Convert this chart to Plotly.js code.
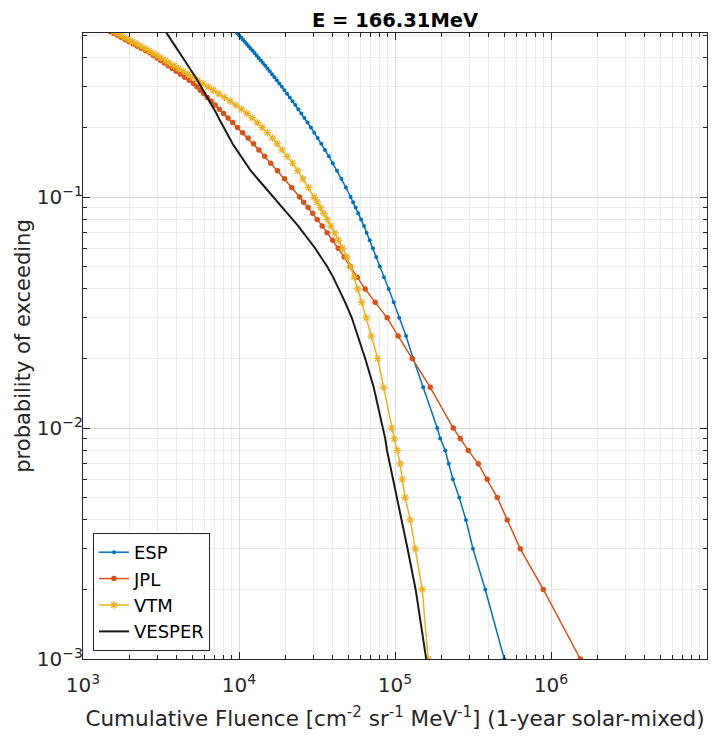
<!DOCTYPE html>
<html>
<head>
<meta charset="utf-8">
<script src="https://cdn.plot.ly/plotly-3.0.1.min.js"></script>
<style>html,body{margin:0;padding:0;background:#fff;}#chart{width:724px;height:737px;}</style>
</head>
<body>
<div id="chart"></div>
<script>
// probability levels of the sampled points
const prob = [0.52,0.51,0.50,0.49,0.48,0.47,0.46,0.45,0.44,0.43,0.42,0.41,0.40,0.39,0.38,0.37,0.36,0.35,0.34,0.33,0.32,0.31,0.30,0.29,0.28,0.27,0.26,0.25,0.24,0.23,0.22,0.21,0.20,0.19,0.18,0.17,0.16,0.15,0.14,0.13,0.12,0.11,0.10,
  0.095,0.09,0.085,0.08,0.075,0.07,0.065,0.06,0.055,0.05,0.045,0.04,0.035,0.03,0.025,0.02,0.015,0.01,
  0.009,0.008,0.007,0.006,0.005,0.004,0.003,0.002,0.001];

const espFluence = [9544,9788,10050,10318,10607,10899,11215,11535,11864,12217,12589,12972,13381,13801,14245,14719,15223,15740,16288,16868,17484,18135,18830,19560,20330,21150,22040,22990,24010,25110,26260,27530,28890,30340,31930,33690,35590,37650,39940,42500,45310,48420,51960,
  53860,55920,58080,60640,63250,65840,68820,72240,75760,79890,85000,91130,98100,106400,117700,130800,151700,186500,
  195000,209900,221100,235200,258100,285000,316000,379000,501700];

const jplFluence = [1499,1578,1667,1761,1865,1976,2099,2227,2366,2521,2690,2829,2984,3147,3323,3520,3735,3961,4216,4491,4793,5114,5370,5647,5946,6271,6632,7036,7474,7965,8502,9112,9795,10560,11440,12390,13420,14590,15970,17660,19580,21750,24440,
  25970,27750,29660,31700,34120,36740,39850,43220,47230,51600,57210,64400,74640,89130,104800,128900,168200,236200,
  261900,294800,341800,390300,452400,524500,635600,892500,1542000];

const vtmFluence = [1580,1665,1758,1857,1967,2081,2211,2349,2495,2651,2808,2979,3165,3368,3588,3829,4099,4386,4708,5062,5450,5876,6346,6852,7418,8083,8781,9539,10390,11240,12150,13100,14090,15190,16400,17560,18880,20350,22070,23800,25700,27910,30320,
  31740,33330,34990,36800,38800,41040,43540,46190,49220,51970,54740,57640,61150,65380,70370,77450,84640,95250,
  98900,103300,108000,111200,116200,125300,134900,149400,163200];

const vesperFluence = [3387,3447,3515,3588,3663,3740,3818,3903,3985,4080,4178,4271,4380,4491,4604,4729,4856,4994,5129,5267,5410,5564,5722,5893,6080,6271,6478,6712,6933,7172,7408,7688,7978,8303,8654,9098,9665,10300,11020,11890,13160,14710,16550,
  17710,19050,20530,22230,23930,25880,28170,30770,33470,36740,40130,43730,47930,52840,57990,64400,73010,84020,
  86540,88880,92760,97390,102600,110600,120400,135600,158500];

const seriesNames = ['ESP','JPL','VTM','VESPER'];
const chartTitle = 'E = 166.31MeV';
const xTitle = 'Cumulative Fluence [cm<sup>-2</sup> sr<sup>-1</sup> MeV<sup>-1</sup>] (1-year solar-mixed)';
const yTitle = 'probability of exceeding';

const FONT = 'DejaVu Sans, Liberation Sans, Arial, sans-serif';
const axisColor = '#262626';

const traces = [
  {x: espFluence, y: prob, name: seriesNames[0], type: 'scatter', mode: 'lines+markers',
   line: {color: '#0072BD', width: 1.5}, marker: {symbol: 'circle', size: 4, color: '#0072BD'}},
  {x: jplFluence, y: prob, name: seriesNames[1], type: 'scatter', mode: 'lines+markers',
   line: {color: '#D95319', width: 1.5}, marker: {symbol: 'circle', size: 5.5, color: '#D95319'}},
  {x: vtmFluence, y: prob, name: seriesNames[2], type: 'scatter', mode: 'lines+markers',
   line: {color: '#EDB120', width: 1.5}, marker: {symbol: 'asterisk-open', size: 6.5, color: '#EDB120', line: {color: '#EDB120', width: 1.2}}},
  {x: vesperFluence, y: prob, name: seriesNames[3], type: 'scatter', mode: 'lines',
   line: {color: '#1a1a1a', width: 2}}
];

const axisCommon = {
  type: 'log',
  showline: true, linecolor: axisColor, linewidth: 1, mirror: 'allticks',
  ticks: 'inside', ticklen: 7, tickcolor: axisColor, tickwidth: 1,
  showgrid: true, gridcolor: '#dcdcdc', gridwidth: 1,
  zeroline: false,
  dtick: 1, exponentformat: 'power', showexponent: 'all',
  tickfont: {family: FONT, size: 16, color: axisColor},
  minor: {ticks: 'inside', ticklen: 4, tickcolor: axisColor, showgrid: true, gridcolor: '#ebebeb', gridwidth: 1}
};

const layout = {
  width: 724, height: 737,
  margin: {l: 83, r: 17, t: 33, b: 78},
  paper_bgcolor: '#ffffff', plot_bgcolor: '#ffffff',
  font: {family: FONT, color: axisColor},
  title: {text: chartTitle, font: {family: FONT, size: 19.5, color: '#000', weight: 700},
          x: 0.5, xref: 'paper', xanchor: 'center', y: 1 - 20/737, yref: 'container', yanchor: 'middle'},
  xaxis: Object.assign({}, axisCommon, {range: [3, 7], ticklabelstandoff: 9,
          title: {text: xTitle, font: {family: FONT, size: 21.5, color: axisColor}, standoff: 14}}),
  yaxis: Object.assign({}, axisCommon, {range: [-3, Math.log10(0.513)], ticklabelstandoff: -4,
          title: {text: yTitle, font: {family: FONT, size: 21, color: axisColor}, standoff: 0}}),
  showlegend: true,
  legend: {x: 0.016, y: 0.0128, xanchor: 'left', yanchor: 'bottom',
           bgcolor: '#ffffff', bordercolor: axisColor, borderwidth: 1,
           font: {family: FONT, size: 18, color: '#000'},
           traceorder: 'normal', tracegroupgap: 0},
  hovermode: false
};

Plotly.newPlot('chart', traces, layout, {displayModeBar: false, staticPlot: true});
</script>
</body>
</html>
